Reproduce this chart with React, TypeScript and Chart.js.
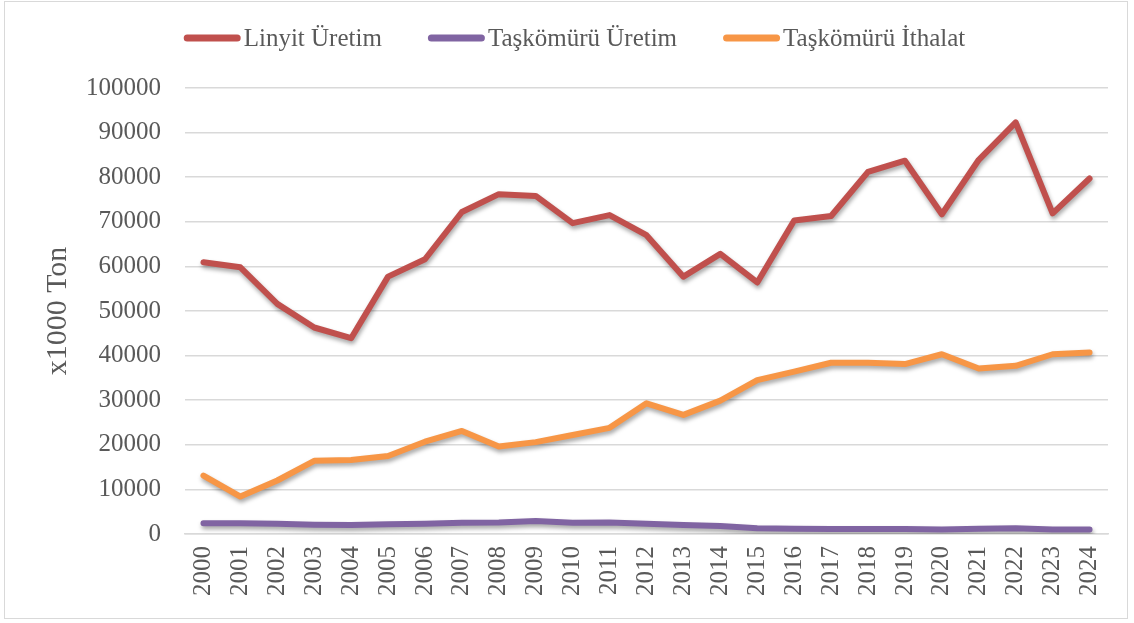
import React, { useEffect, useRef } from 'react';
import { Chart, registerables } from 'chart.js';

Chart.register(...registerables);

const years = ['2000','2001','2002','2003','2004','2005','2006','2007','2008','2009','2010','2011','2012','2013','2014','2015','2016','2017','2018','2019','2020','2021','2022','2023','2024'];
const linyitUretim = [60950, 59800, 51600, 46300, 43900, 57700, 61600, 72200, 76200, 75800, 69700, 71500, 67000, 57700, 62800, 56400, 70300, 71300, 81200, 83700, 71700, 83900, 92300, 71900, 79700];
const taskomuruUretim = [2400, 2400, 2300, 2100, 2000, 2200, 2300, 2500, 2600, 2900, 2500, 2600, 2300, 2000, 1800, 1300, 1200, 1100, 1100, 1100, 1000, 1200, 1300, 1000, 1000];
const taskomuruIthalat = [13100, 8400, 12000, 16400, 16600, 17500, 20700, 23100, 19600, 20600, 22200, 23800, 29300, 26700, 29900, 34500, 36400, 38400, 38400, 38100, 40300, 37100, 37700, 40300, 40700];
const seriesNames = ['Linyit Üretim', 'Taşkömürü Üretim', 'Taşkömürü İthalat'];
const seriesColors = ['#C0504D', '#8064A2', '#F79646'];
const yTitle = 'x1000 Ton';

const FONT = '"Liberation Serif", "DejaVu Serif", serif';
const TEXT = '#595959';
const GRID = '#d9d9d9';

const shadowPlugin = {
  id: 'lineShadow',
  beforeDatasetDraw(chart: any) {
    const ctx = chart.ctx;
    ctx.save();
    ctx.shadowColor = 'rgba(0,0,0,0.35)';
    ctx.shadowBlur = 4;
    ctx.shadowOffsetX = 1;
    ctx.shadowOffsetY = 3;
  },
  afterDatasetDraw(chart: any) {
    chart.ctx.restore();
  },
};

const framePlugin = {
  id: 'frameAndLegend',
  beforeDraw(chart: any) {
    const ctx = chart.ctx;
    ctx.save();
    ctx.fillStyle = '#ffffff';
    ctx.fillRect(0, 0, chart.width, chart.height);
    ctx.strokeStyle = GRID;
    ctx.lineWidth = 1;
    ctx.strokeRect(4.5, 1.5, 1123, 617);
    ctx.restore();
  },
  afterDraw(chart: any) {
    const ctx = chart.ctx;
    ctx.save();
    ctx.font = '25px ' + FONT;
    const lineLen = 57;
    const gap = 3;
    const itemGap = 46;
    const items = chart.data.datasets.map((d: any) => ({
      label: d.label,
      color: d.borderColor,
      w: ctx.measureText(d.label).width,
    }));
    const total = items.reduce((s: number, it: any) => s + lineLen + gap + it.w, 0) + itemGap * (items.length - 1);
    let x = 574.5 - total / 2;
    const y = 38;
    items.forEach((it: any) => {
      ctx.strokeStyle = it.color;
      ctx.lineWidth = 7;
      ctx.lineCap = 'round';
      ctx.beginPath();
      ctx.moveTo(x + 3.5, y);
      ctx.lineTo(x + lineLen - 3.5, y);
      ctx.stroke();
      ctx.fillStyle = TEXT;
      ctx.textBaseline = 'middle';
      ctx.textAlign = 'left';
      ctx.fillText(it.label, x + lineLen + gap, y + 1);
      x += lineLen + gap + it.w + itemGap;
    });
    ctx.restore();
  },
};

export default function App() {
  const ref = useRef<HTMLCanvasElement | null>(null);

  useEffect(() => {
    document.body.style.margin = '0';
    const canvas = ref.current;
    if (!canvas) return;
    const mk = (i: number, data: number[]) => ({
      label: seriesNames[i],
      data,
      borderColor: seriesColors[i],
      backgroundColor: seriesColors[i],
      borderWidth: 6,
      pointRadius: 0,
      pointHoverRadius: 0,
      tension: 0,
      borderCapStyle: 'round' as const,
      borderJoinStyle: 'round' as const,
      fill: false,
    });
    const chart = new Chart(canvas, {
      type: 'line',
      data: {
        labels: years,
        datasets: [mk(0, linyitUretim), mk(1, taskomuruUretim), mk(2, taskomuruIthalat)],
      },
      options: {
        animation: false,
        responsive: false,
        maintainAspectRatio: false,
        layout: { padding: { top: 88, right: 26, left: 0, bottom: 0 } },
        plugins: {
          legend: { display: false },
          tooltip: { enabled: false },
        },
        scales: {
          x: {
            offset: true,
            grid: { display: false, drawTicks: false },
            border: { display: true, color: GRID, width: 1.5 },
            ticks: {
              autoSkip: false,
              minRotation: 90,
              maxRotation: 90,
              padding: 12,
              color: TEXT,
              font: { family: FONT, size: 25 },
            },
            afterFit(scale: any) {
              scale.height = 623 - 534;
            },
          },
          y: {
            min: 0,
            max: 100000,
            border: { display: false },
            grid: { color: GRID, lineWidth: 1.5, drawTicks: false },
            ticks: {
              stepSize: 10000,
              padding: 24,
              color: TEXT,
              font: { family: FONT, size: 25 },
              callback: (v: any) => String(v),
            },
            title: {
              display: true,
              text: yTitle,
              color: TEXT,
              font: { family: FONT, size: 30 },
              padding: { top: 40, bottom: 0 },
            },
            afterFit(scale: any) {
              scale.width = 185;
            },
          },
        },
      },
      plugins: [shadowPlugin, framePlugin],
    });
    return () => chart.destroy();
  }, []);

  return (
    <div style={{ width: 1134, height: 623, position: 'relative' }}>
      <canvas ref={ref} width={1134} height={623} style={{ display: 'block' }} />
    </div>
  );
}
